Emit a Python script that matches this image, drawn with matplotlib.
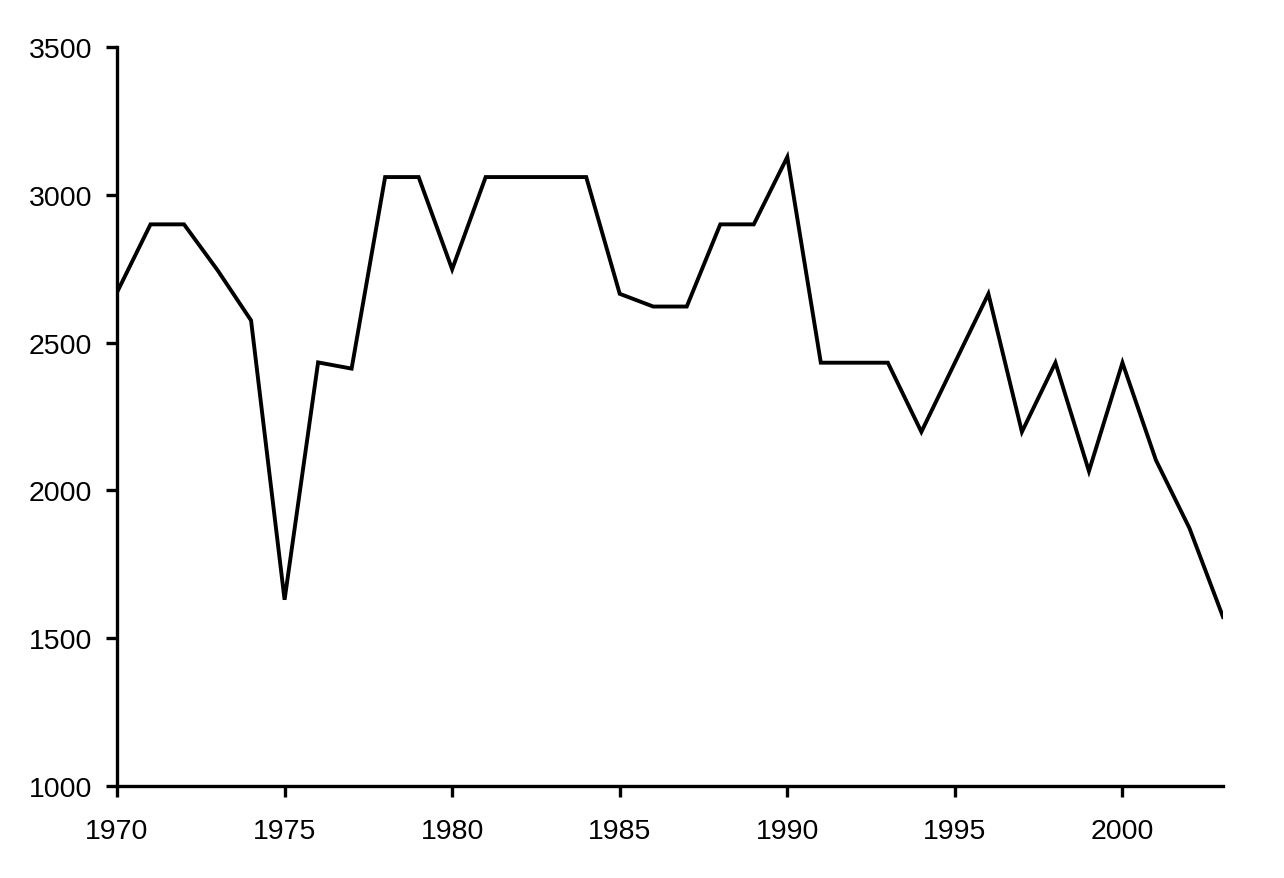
import matplotlib
matplotlib.use("Agg")
import matplotlib.pyplot as plt

years = list(range(1970, 2004))
values = [2670, 2900, 2900, 2745, 2575, 1630, 2433, 2412, 3060, 3060,
          2748, 3060, 3060, 3060, 3060, 2665, 2622, 2622, 2900, 2900,
          3128, 2432, 2432, 2432, 2198, 2432, 2665, 2198, 2432, 2065,
          2432, 2102, 1872, 1572]
xticks = [1970, 1975, 1980, 1985, 1990, 1995, 2000]
yticks = [1000, 1500, 2000, 2500, 3000, 3500]

plt.rcParams['font.family'] = ['Liberation Sans', 'DejaVu Sans']
fig = plt.figure(figsize=(12.84, 8.79), dpi=100)
ax = fig.add_axes([117/1284, 1 - 787/879, (1223-117)/1284, (787-48)/879])
ax.plot(years, values, color='black', linewidth=2.8, solid_joinstyle='miter')
ax.set_xlim(1970, 2003)
ax.set_ylim(1000, 3500)
ax.set_xticks(xticks)
ax.set_yticks(yticks)
for s in ['top', 'right']:
    ax.spines[s].set_visible(False)
for s in ['left', 'bottom']:
    ax.spines[s].set_linewidth(2.4)
ax.tick_params(axis='both', direction='out', length=8, width=2.4, labelsize=20.5)
ax.tick_params(axis='y', pad=10)
ax.tick_params(axis='x', pad=15)
ax.patch.set_visible(False)
fig.savefig("out.png", dpi=100)
